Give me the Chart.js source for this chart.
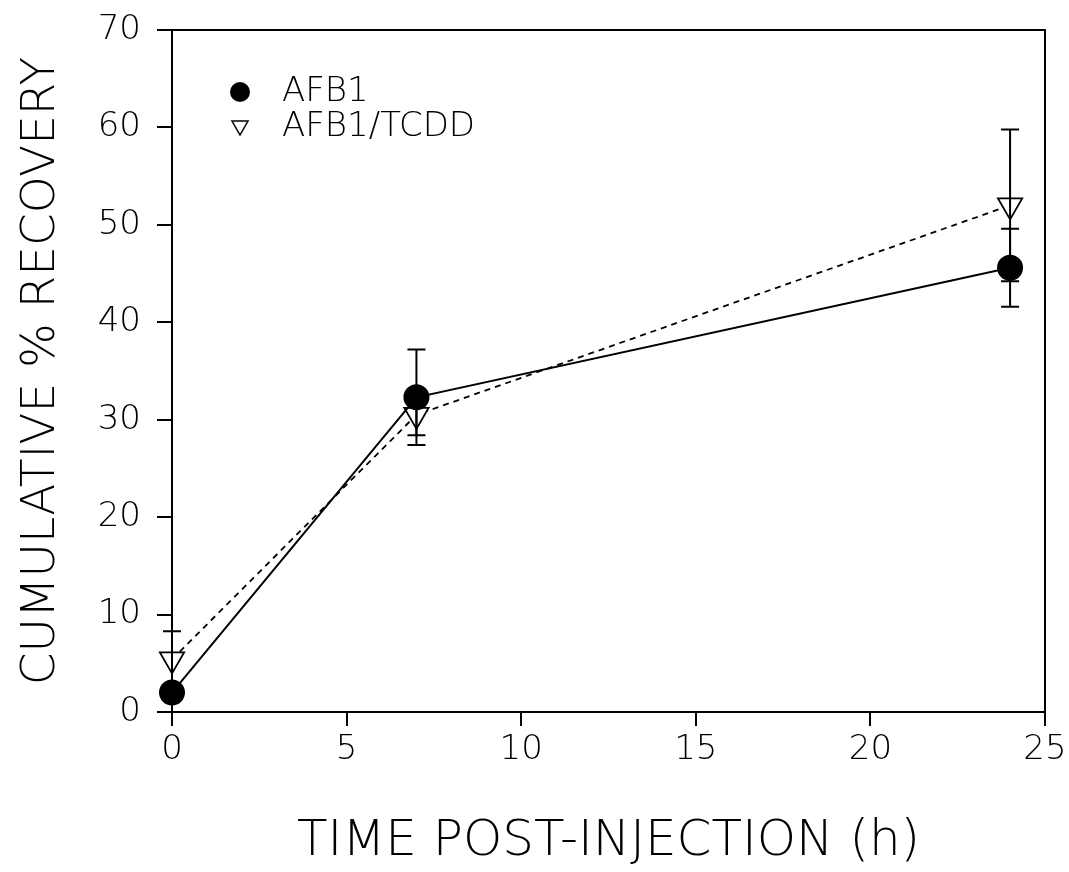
<!DOCTYPE html>
<html>
<head>
<meta charset="utf-8">
<script src="https://cdn.jsdelivr.net/npm/chart.js@4"></script>
<style>
  html, body { margin: 0; padding: 0; background: #fff; }
  #wrap { width: 1069px; height: 872px; }
</style>
</head>
<body>
<div id="wrap"><canvas id="chart" width="1069" height="872"></canvas></div>
<script>
// datos
const timeH    = [0, 7, 24];
const afb1     = [2.0, 32.3, 45.6];
const afb1Err  = [0.8, 4.9, 4.0];
const tcdd     = [5.4, 30.5, 52.0];
const tcddErr  = [2.9, 2.1, 7.8];
const xTicks   = [0, 5, 10, 15, 20, 25];
const yTicks   = [0, 10, 20, 30, 40, 50, 60, 70];
const seriesLabels = ['AFB1', 'AFB1/TCDD'];

const FONT = '"DejaVu Sans", "Liberation Sans", sans-serif';

const toPts = (xs, ys) => xs.map((x, i) => ({ x, y: ys[i] }));

// barras de error + marco + leyenda
const extras = {
  id: 'extras',
  afterDatasetsDraw(chart) {
    const { ctx, chartArea: a, scales: { x, y } } = chart;
    ctx.save();
    ctx.strokeStyle = '#000';
    ctx.lineWidth = 2;
    // marco superior y derecho
    ctx.beginPath();
    ctx.moveTo(a.left, a.top);
    ctx.lineTo(a.right, a.top);
    ctx.lineTo(a.right, a.bottom);
    ctx.stroke();

    const errs = [afb1Err, tcddErr];
    const vals = [afb1, tcdd];
    errs.forEach((err, s) => {
      timeH.forEach((t, i) => {
        const px = x.getPixelForValue(t);
        const yTop = y.getPixelForValue(vals[s][i] + err[i]);
        const yBot = y.getPixelForValue(vals[s][i] - err[i]);
        ctx.beginPath();
        ctx.moveTo(px, yTop); ctx.lineTo(px, yBot);
        ctx.moveTo(px - 9, yTop); ctx.lineTo(px + 9, yTop);
        ctx.moveTo(px - 9, yBot); ctx.lineTo(px + 9, yBot);
        ctx.stroke();
      });
    });

    // leyenda
    const lx = 240, ly = [92, 127];
    ctx.fillStyle = '#000';
    ctx.beginPath(); ctx.arc(lx, ly[0], 10, 0, Math.PI * 2); ctx.fill();
    ctx.lineWidth = 1.5;
    ctx.beginPath();
    ctx.moveTo(lx - 8, ly[1] - 6); ctx.lineTo(lx + 8, ly[1] - 6); ctx.lineTo(lx, ly[1] + 8);
    ctx.closePath(); ctx.stroke();
    ctx.font = `200 34px ${FONT}`;
    ctx.textBaseline = 'middle';
    ctx.textAlign = 'left';
    seriesLabels.forEach((lab, i) => ctx.fillText(lab, 282, ly[i]));
    ctx.restore();
  }
};

new Chart(document.getElementById('chart'), {
  type: 'scatter',
  data: {
    datasets: [
      {
        label: seriesLabels[0],
        data: toPts(timeH, afb1),
        showLine: true,
        borderColor: '#000',
        borderWidth: 2,
        pointStyle: 'circle',
        pointRadius: 12,
        pointBackgroundColor: '#000',
        pointBorderColor: '#000',
        order: 1
      },
      {
        label: seriesLabels[1],
        data: toPts(timeH, tcdd),
        showLine: true,
        borderColor: '#000',
        borderWidth: 1.8,
        borderDash: [6, 5],
        pointStyle: 'triangle',
        pointRotation: 180,
        pointRadius: 14,
        pointBackgroundColor: '#fff',
        pointBorderColor: '#000',
        pointBorderWidth: 1.8,
        order: 2
      }
    ]
  },
  options: {
    responsive: false,
    animation: false,
    clip: false,
    layout: { padding: { top: 30, right: 24, left: 0, bottom: 0 } },
    plugins: { legend: { display: false }, tooltip: { enabled: false } },
    scales: {
      x: {
        type: 'linear', min: 0, max: 25,
        afterBuildTicks: (s) => { s.ticks = xTicks.map(v => ({ value: v })); },
        afterFit: (s) => { s.height = 160; s.paddingLeft = 0; s.paddingRight = 0; },
        border: { color: '#000', width: 2 },
        grid: { drawOnChartArea: false, color: '#000', lineWidth: 2, tickLength: 14 },
        ticks: { color: '#000', padding: 4, font: { family: FONT, size: 34, weight: 200 } },
        title: { display: true, text: 'TIME POST-INJECTION (h)', color: '#000',
                 padding: { top: 0, bottom: 0 }, font: { family: FONT, size: 50, weight: 200 } }
      },
      y: {
        type: 'linear', min: 0, max: 70,
        afterBuildTicks: (s) => { s.ticks = yTicks.map(v => ({ value: v })); },
        afterFit: (s) => { s.width = 172; s.paddingTop = 0; s.paddingBottom = 0; },
        border: { color: '#000', width: 2 },
        grid: { drawOnChartArea: false, color: '#000', lineWidth: 2, tickLength: 15 },
        ticks: { color: '#000', padding: 16, font: { family: FONT, size: 34, weight: 200 } },
        title: { display: true, text: 'CUMULATIVE % RECOVERY', color: '#000',
                 padding: { top: 14, bottom: 0 }, font: { family: FONT, size: 47, weight: 200 } }
      }
    }
  },
  plugins: [extras]
});
</script>
</body>
</html>
